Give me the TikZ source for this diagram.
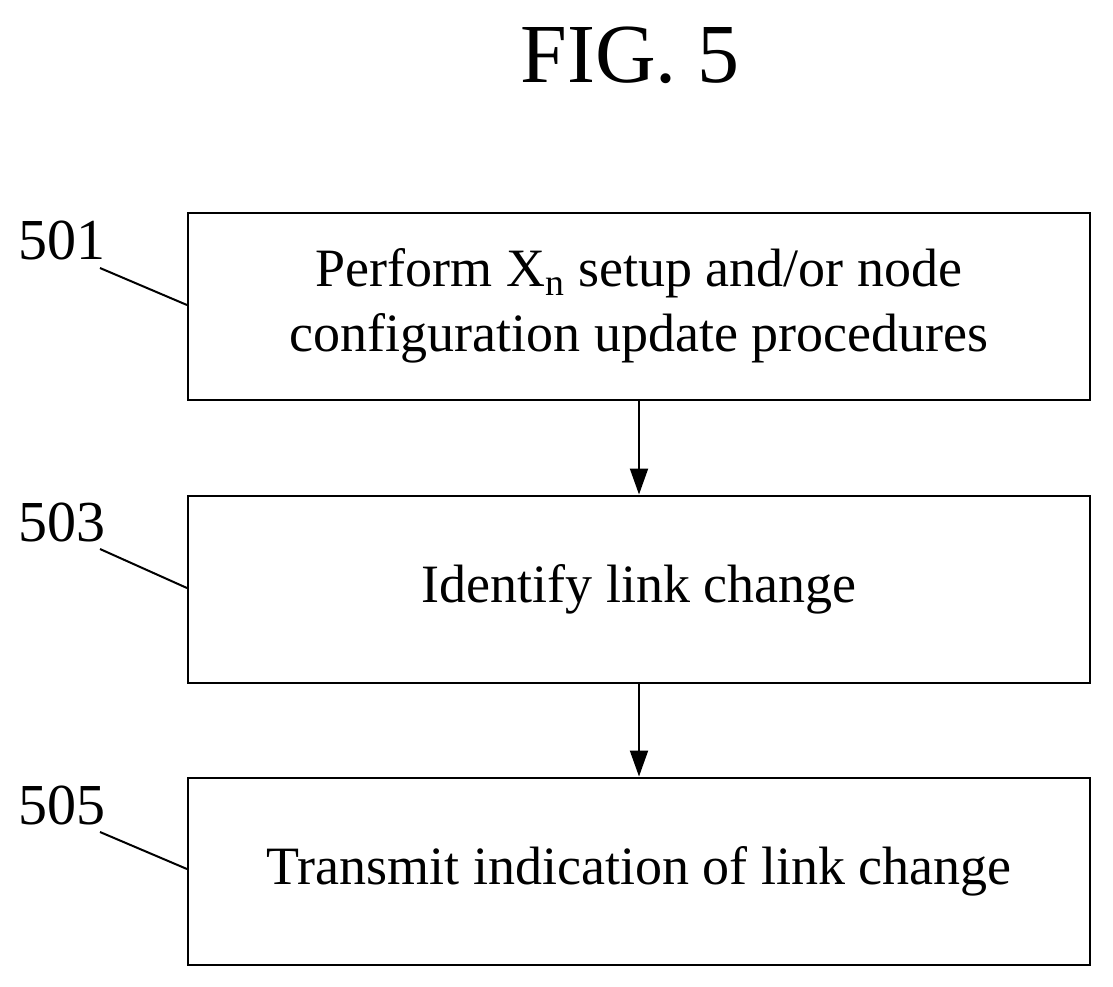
\documentclass[tikz,border=0pt]{standalone}
\usepackage{fontspec}
\setmainfont{Liberation Serif}
\usetikzlibrary{arrows.meta,positioning}

\tikzset{
  procbox/.style={draw, line width=2pt, minimum width=902pt, minimum height=187pt, align=center, font=\fontsize{54}{65}\selectfont, inner sep=0pt},
  ref/.style={font=\fontsize{58}{60}\selectfont, inner sep=0pt},
  flow/.style={-{Triangle[length=26pt,width=18pt]}, line width=2pt},
  lead/.style={line width=2pt}
}

\begin{document}
\begin{tikzpicture}[x=1pt,y=-1pt]
  \useasboundingbox (0,0) rectangle (1113,986);
  % Title
  \node[font=\fontsize{84}{90}\selectfont] (title) at (630,55) {FIG. 5};

  % Steps
  \node[procbox] (s501) at (639,306) {Perform X\textsubscript{n} setup and/or node\\configuration update procedures};
  \node[procbox] (s503) at (639,589) {Identify link change};
  \node[procbox] (s505) at (639,871) {Transmit indication of link change};

  % Arrows
  \draw[flow] (s501) -- (s503);
  \draw[flow] (s503) -- (s505);

  % Reference numerals
  \node[ref] (r501) at (62,240) {501};
  \node[ref] (r503) at (62,522) {503};
  \node[ref] (r505) at (62,805) {505};
  \coordinate (c501) at (100,268);
  \coordinate (c503) at (100,549);
  \coordinate (c505) at (100,832);
  \draw[lead] (c501) -- (s501.west |- 0,305);
  \draw[lead] (c503) -- (s503.west |- 0,588);
  \draw[lead] (c505) -- (s505.west |- 0,869);
\end{tikzpicture}
\end{document}
